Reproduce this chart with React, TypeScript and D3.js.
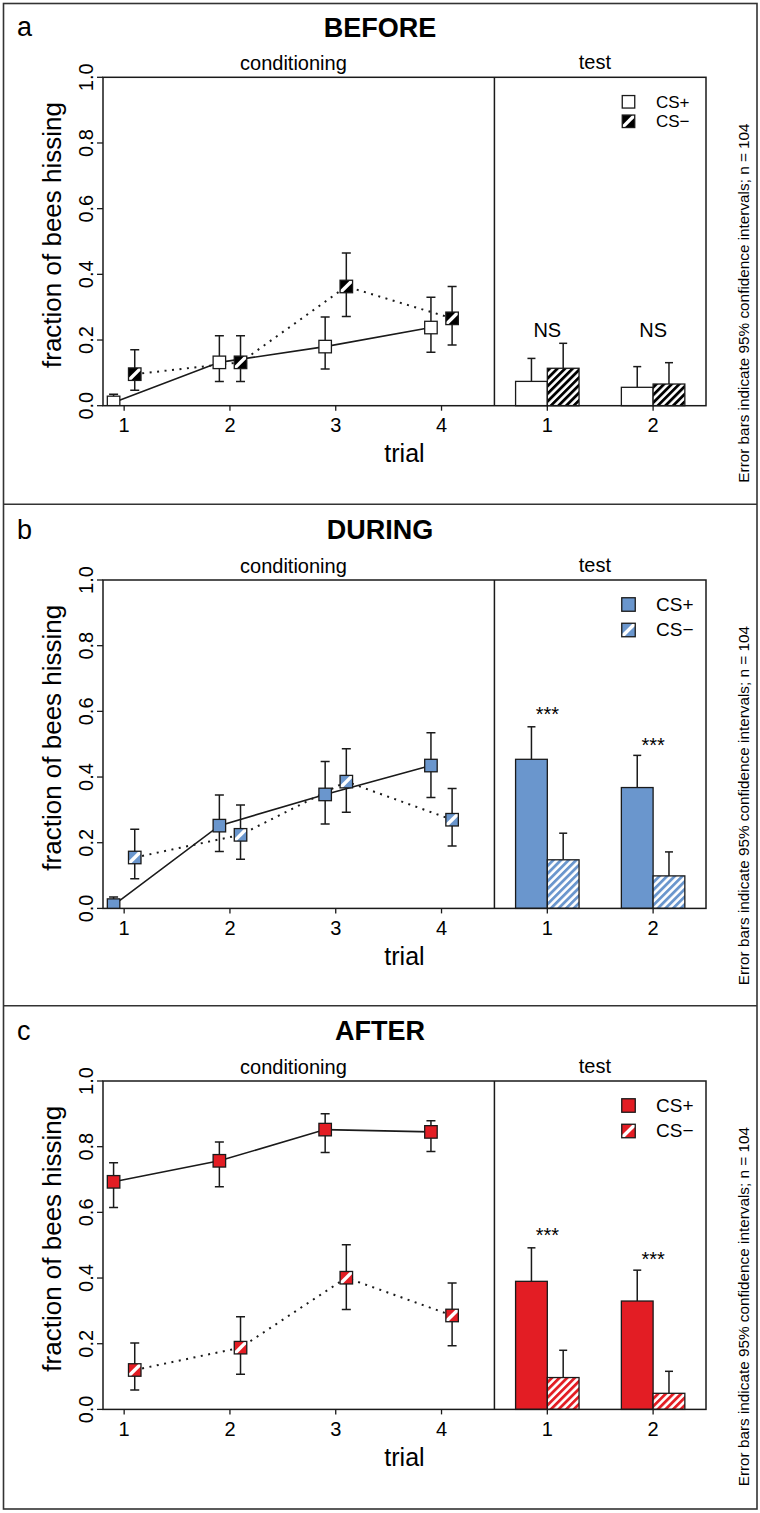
import React from "react";
import * as d3 from "d3";

// ---------- data ----------
const trials = [1, 2, 3, 4];
const testTrials = [1, 2];
const xTickValues = [1, 2, 3, 4, 5, 6];
const xTickLabels = ["1", "2", "3", "4", "1", "2"];
const yTicks = [0, 0.2, 0.4, 0.6, 0.8, 1.0];

// BEFORE
const beforePlus = [0.01, 0.132, 0.18, 0.238];
const beforePlusLo = [0, 0.074, 0.112, 0.163];
const beforePlusHi = [0.035, 0.213, 0.27, 0.33];
const beforeMinus = [0.096, 0.132, 0.363, 0.266];
const beforeMinusLo = [0.047, 0.074, 0.272, 0.185];
const beforeMinusHi = [0.17, 0.213, 0.465, 0.363];
const beforeTestPlus = [0.074, 0.056];
const beforeTestPlusHi = [0.144, 0.119];
const beforeTestMinus = [0.114, 0.066];
const beforeTestMinusHi = [0.19, 0.131];
const beforeSig = ["NS", "NS"];
const beforeSigAt = [0.208, 0.208];

// DURING
const duringPlus = [0.01, 0.252, 0.347, 0.435];
const duringPlusLo = [0, 0.173, 0.257, 0.338];
const duringPlusHi = [0.035, 0.345, 0.447, 0.535];
const duringMinus = [0.155, 0.224, 0.386, 0.27];
const duringMinusLo = [0.09, 0.15, 0.293, 0.19];
const duringMinusHi = [0.241, 0.315, 0.486, 0.365];
const duringTestPlus = [0.454, 0.368];
const duringTestPlusHi = [0.553, 0.466];
const duringTestMinus = [0.148, 0.099];
const duringTestMinusHi = [0.229, 0.172];
const duringSig = ["***", "***"];
const duringSigAt = [0.571, 0.477];

// AFTER
const afterPlus = [0.693, 0.757, 0.852, 0.845];
const afterPlusLo = [0.615, 0.678, 0.782, 0.785];
const afterPlusHi = [0.751, 0.814, 0.9, 0.879];
const afterMinus = [0.12, 0.188, 0.401, 0.286];
const afterMinusLo = [0.059, 0.107, 0.304, 0.194];
const afterMinusHi = [0.202, 0.282, 0.501, 0.385];
const afterTestPlus = [0.39, 0.33];
const afterTestPlusHi = [0.492, 0.424];
const afterTestMinus = [0.097, 0.049];
const afterTestMinusHi = [0.18, 0.116];
const afterSig = ["***", "***"];
const afterSigAt = [0.51, 0.436];

const FONT = "'Liberation Sans', Arial, Helvetica, sans-serif";
const INK = "#1a1a1a";

type PanelData = {
  key: string;
  letter: string;
  title: string;
  offset: number;
  plusFill: string;
  minusColor: string;
  plus: number[]; plusLo: number[]; plusHi: number[];
  minus: number[]; minusLo: number[]; minusHi: number[];
  testPlus: number[]; testPlusHi: number[];
  testMinus: number[]; testMinusHi: number[];
  sig: string[]; sigAt: number[];
  legend: { y1: number; y2: number; size: number; font: number };
};

const panels: PanelData[] = [
  {
    key: "a", letter: "a", title: "BEFORE", offset: 0,
    plusFill: "#ffffff", minusColor: "#000000",
    plus: beforePlus, plusLo: beforePlusLo, plusHi: beforePlusHi,
    minus: beforeMinus, minusLo: beforeMinusLo, minusHi: beforeMinusHi,
    testPlus: beforeTestPlus, testPlusHi: beforeTestPlusHi,
    testMinus: beforeTestMinus, testMinusHi: beforeTestMinusHi,
    sig: beforeSig, sigAt: beforeSigAt,
    legend: { y1: 24.5, y2: 44, size: 12.5, font: 17 },
  },
  {
    key: "b", letter: "b", title: "DURING", offset: 502.7,
    plusFill: "#6a96cd", minusColor: "#6a96cd",
    plus: duringPlus, plusLo: duringPlusLo, plusHi: duringPlusHi,
    minus: duringMinus, minusLo: duringMinusLo, minusHi: duringMinusHi,
    testPlus: duringTestPlus, testPlusHi: duringTestPlusHi,
    testMinus: duringTestMinus, testMinusHi: duringTestMinusHi,
    sig: duringSig, sigAt: duringSigAt,
    legend: { y1: 24.5, y2: 50, size: 13.5, font: 19 },
  },
  {
    key: "c", letter: "c", title: "AFTER", offset: 1003.7,
    plusFill: "#e31d24", minusColor: "#e31d24",
    plus: afterPlus, plusLo: afterPlusLo, plusHi: afterPlusHi,
    minus: afterMinus, minusLo: afterMinusLo, minusHi: afterMinusHi,
    testPlus: afterTestPlus, testPlusHi: afterTestPlusHi,
    testMinus: afterTestMinus, testMinusHi: afterTestMinusHi,
    sig: afterSig, sigAt: afterSigAt,
    legend: { y1: 24.5, y2: 50, size: 13.5, font: 19 },
  },
];

// ---------- layout ----------
const PL = 103, PR = 706, PT = 77.3, PB = 405.7;
const DIVIDE = 4.5;
const x = d3.scaleLinear().domain([0.8, 6.5]).range([PL, PR]);
const y = d3.scaleLinear().domain([0, 1]).range([PB, PT]);
const SHIFT = 0.1;
const BARW = 0.3;
const MK = 12.5;

function bandPoly(cx: number, cy: number, h: number, d: number) {
  const p = [
    [-h, h - d], [h - d, -h], [h, -h], [h, d - h], [d - h, h], [-h, h],
  ];
  return p.map(([a, b]) => `${cx + a},${cy + b}`).join(" ");
}

function MinusMarker({ cx, cy, size, color }: { cx: number; cy: number; size: number; color: string }) {
  const h = size / 2;
  return (
    <g>
      <rect x={cx - h} y={cy - h} width={size} height={size} fill={color} />
      <polygon points={bandPoly(cx, cy, h, 2.4)} fill="#ffffff" />
      <rect x={cx - h} y={cy - h} width={size} height={size} fill="none" stroke={INK} strokeWidth={1.3} />
    </g>
  );
}

function Panel({ p }: { p: PanelData }) {
  const line = d3.line<number>().x((_, i) => x(trials[i] - SHIFT)).y((v) => y(v));
  const lineM = d3.line<number>().x((_, i) => x(trials[i] + SHIFT)).y((v) => y(v));
  const clipId = `clip-${p.key}`;
  const hatchId = `hatch-${p.key}`;
  const cap = 4.5;
  const midCond = x(2.6);
  const midTest = x(5.45);
  return (
    <g transform={`translate(0, ${p.offset})`}>
      <defs>
        <clipPath id={clipId}>
          <rect x={PL} y={PT} width={PR - PL} height={PB - PT} />
        </clipPath>
        <pattern id={hatchId} patternUnits="userSpaceOnUse" width={5.4} height={10} patternTransform="rotate(45)">
          <rect width={5.4} height={10} fill="#ffffff" />
          <rect width={2.8} height={10} fill={p.minusColor} />
        </pattern>
      </defs>

      {/* titles */}
      <text x={17} y={36} fontSize={27} fontFamily={FONT} fill="#000">{p.letter}</text>
      <text x={380} y={36.5} fontSize={27} fontWeight="bold" fontFamily={FONT} textAnchor="middle" fill="#000">{p.title}</text>
      <text x={midCond} y={70} fontSize={20} fontFamily={FONT} textAnchor="middle" fill="#000">conditioning</text>
      <text x={midTest} y={69} fontSize={20} fontFamily={FONT} textAnchor="middle" fill="#000">test</text>

      {/* y axis */}
      {yTicks.map((t) => (
        <g key={t}>
          <line x1={PL - 6} x2={PL} y1={y(t)} y2={y(t)} stroke={INK} strokeWidth={1.3} />
          <text transform={`translate(93, ${y(t)}) rotate(-90)`} fontSize={20} fontFamily={FONT} textAnchor="middle" fill="#000">
            {d3.format(".1f")(t)}
          </text>
        </g>
      ))}
      <text transform={`translate(61, 235) rotate(-90)`} fontSize={26} fontFamily={FONT} textAnchor="middle" fill="#000">
        fraction of bees hissing
      </text>

      {/* x axis */}
      {xTickValues.map((t, i) => (
        <g key={t}>
          <line x1={x(t)} x2={x(t)} y1={PB} y2={PB + 5} stroke={INK} strokeWidth={1.3} />
          <text x={x(t)} y={432} fontSize={20} fontFamily={FONT} textAnchor="middle" fill="#000">{xTickLabels[i]}</text>
        </g>
      ))}
      <text x={(PL + PR) / 2} y={462} fontSize={25} fontFamily={FONT} textAnchor="middle" fill="#000">trial</text>

      {/* side note */}
      <text transform={`translate(749, 303) rotate(-90)`} fontSize={15.3} fontFamily={FONT} textAnchor="middle" fill="#000">
        Error bars indicate 95% confidence intervals; n = 104
      </text>

      {/* conditioning data */}
      <g clipPath={`url(#${clipId})`}>
        <path d={lineM(p.minus) || ""} fill="none" stroke={INK} strokeWidth={2} strokeDasharray="2 5.5" />
        <path d={line(p.plus) || ""} fill="none" stroke={INK} strokeWidth={1.6} />
        {p.plus.map((v, i) => {
          const cx = x(trials[i] - SHIFT);
          return (
            <g key={`pe${i}`} stroke={INK} strokeWidth={1.5}>
              <line x1={cx} x2={cx} y1={y(p.plusLo[i])} y2={y(p.plusHi[i])} />
              <line x1={cx - cap} x2={cx + cap} y1={y(p.plusLo[i])} y2={y(p.plusLo[i])} />
              <line x1={cx - cap} x2={cx + cap} y1={y(p.plusHi[i])} y2={y(p.plusHi[i])} />
            </g>
          );
        })}
        {p.minus.map((v, i) => {
          const cx = x(trials[i] + SHIFT);
          return (
            <g key={`me${i}`} stroke={INK} strokeWidth={1.5}>
              <line x1={cx} x2={cx} y1={y(p.minusLo[i])} y2={y(p.minusHi[i])} />
              <line x1={cx - cap} x2={cx + cap} y1={y(p.minusLo[i])} y2={y(p.minusLo[i])} />
              <line x1={cx - cap} x2={cx + cap} y1={y(p.minusHi[i])} y2={y(p.minusHi[i])} />
            </g>
          );
        })}
        {p.plus.map((v, i) => (
          <rect key={`pm${i}`} x={x(trials[i] - SHIFT) - MK / 2} y={y(v) - MK / 2} width={MK} height={MK}
            fill={p.plusFill} stroke={INK} strokeWidth={1.3} />
        ))}
        {p.minus.map((v, i) => (
          <MinusMarker key={`mm${i}`} cx={x(trials[i] + SHIFT)} cy={y(v)} size={MK} color={p.minusColor} />
        ))}
      </g>

      {/* test bars */}
      {testTrials.map((t, i) => {
        const c = t + 4;
        const x0 = x(c - BARW), x1 = x(c), x2 = x(c + BARW);
        const capB = 4;
        const cp = (x0 + x1) / 2, cm = (x1 + x2) / 2;
        return (
          <g key={`bar${i}`}>
            <line x1={cp} x2={cp} y1={y(p.testPlus[i])} y2={y(p.testPlusHi[i])} stroke={INK} strokeWidth={1.5} />
            <line x1={cp - capB} x2={cp + capB} y1={y(p.testPlusHi[i])} y2={y(p.testPlusHi[i])} stroke={INK} strokeWidth={1.5} />
            <line x1={cm} x2={cm} y1={y(p.testMinus[i])} y2={y(p.testMinusHi[i])} stroke={INK} strokeWidth={1.5} />
            <line x1={cm - capB} x2={cm + capB} y1={y(p.testMinusHi[i])} y2={y(p.testMinusHi[i])} stroke={INK} strokeWidth={1.5} />
            <rect x={x0} y={y(p.testPlus[i])} width={x1 - x0} height={y(0) - y(p.testPlus[i])}
              fill={p.plusFill} stroke={INK} strokeWidth={1.3} />
            <rect x={x1} y={y(p.testMinus[i])} width={x2 - x1} height={y(0) - y(p.testMinus[i])}
              fill={`url(#${hatchId})`} stroke={INK} strokeWidth={1.3} />
            <text x={x(c)} y={y(p.sigAt[i])} fontSize={20} fontFamily={FONT} textAnchor="middle" fill="#000">{p.sig[i]}</text>
          </g>
        );
      })}

      {/* legend */}
      {(() => {
        const s = p.legend.size;
        const f = p.legend.font;
        const lx = 628.5;
        const y1 = PT + p.legend.y1, y2 = PT + p.legend.y2;
        return (
          <g>
            <rect x={lx - s / 2} y={y1 - s / 2} width={s} height={s} fill={p.plusFill} stroke={INK} strokeWidth={1.3} />
            <MinusMarker cx={lx} cy={y2} size={s} color={p.minusColor} />
            <text x={656} y={y1 + f * 0.34} fontSize={f} fontFamily={FONT} fill="#000">CS+</text>
            <text x={656} y={y2 + f * 0.34} fontSize={f} fontFamily={FONT} fill="#000">CS−</text>
          </g>
        );
      })()}

      {/* frame */}
      <rect x={PL} y={PT} width={PR - PL} height={PB - PT} fill="none" stroke={INK} strokeWidth={1.5} />
      <line x1={x(DIVIDE)} x2={x(DIVIDE)} y1={PT} y2={PB} stroke={INK} strokeWidth={1.5} />
    </g>
  );
}

export default function App() {
  return (
    <svg width={760} height={1513} style={{ position: "absolute", left: 0, top: 0, background: "#fff" }}>
      <rect x={0} y={0} width={760} height={1513} fill="#ffffff" />
      {panels.map((p) => (
        <Panel key={p.key} p={p} />
      ))}
      <rect x={3.5} y={3.5} width={753.5} height={1505.5} fill="none" stroke="#333" strokeWidth={1.6} />
      <line x1={3.5} x2={757} y1={504.3} y2={504.3} stroke="#333" strokeWidth={1.6} />
      <line x1={3.5} x2={757} y1={1005.8} y2={1005.8} stroke="#333" strokeWidth={1.6} />
    </svg>
  );
}
